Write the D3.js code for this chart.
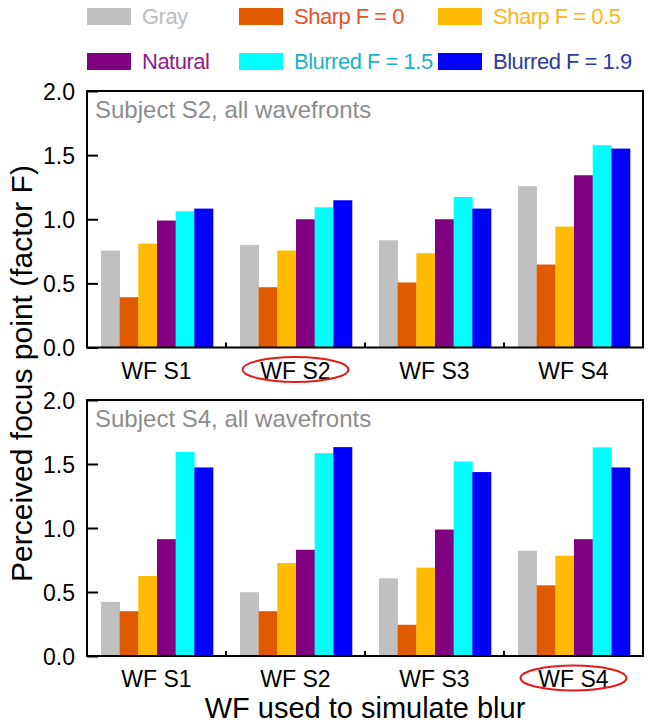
<!DOCTYPE html>
<html>
<head>
<meta charset="utf-8">
<script src="https://cdn.jsdelivr.net/npm/d3@7"></script>
<style>
  html, body { margin: 0; padding: 0; background: #fff; }
  svg { display: block; font-family: "Liberation Sans", Arial, Helvetica, sans-serif; }
</style>
</head>
<body>
<svg id="chart" width="651" height="728"></svg>
<script>
// ---- Data ----
const groups = ["WF S1", "WF S2", "WF S3", "WF S4"];
const series = ["Gray", "Sharp F = 0", "Sharp F = 0.5", "Natural", "Blurred F = 1.5", "Blurred F = 1.9"];
const barColors = ["#c0c0c0", "#e05a00", "#ffbb00", "#800080", "#00ffff", "#0000ff"];
const legendTextColors = ["#bcbcbc", "#e8522a", "#f9b620", "#8a1c8a", "#19b2c6", "#2e3c98"];
// values[group][series]
const valuesS2 = [
  [0.756, 0.392, 0.81, 0.99, 1.062, 1.083],
  [0.80, 0.47, 0.756, 1.00, 1.093, 1.148],
  [0.836, 0.507, 0.735, 1.00, 1.174, 1.083],
  [1.258, 0.647, 0.943, 1.343, 1.577, 1.551]
];
const valuesS4 = [
  [0.423, 0.35, 0.625, 0.913, 1.595, 1.473],
  [0.498, 0.35, 0.726, 0.83, 1.585, 1.632],
  [0.607, 0.244, 0.69, 0.988, 1.52, 1.437],
  [0.822, 0.552, 0.783, 0.913, 1.63, 1.473]
];
const yTicks = [0, 0.5, 1.0, 1.5, 2.0];
const panelTitles = ["Subject S2, all wavefronts", "Subject S4, all wavefronts"];
const highlighted = ["WF S2", "WF S4"];
const xTitle = "WF used to simulate blur";
const yTitle = "Perceived focus point (factor F)";

// ---- Layout ----
const svg = d3.select("#chart");
const left = 87, right = 643;
const panels = [
  { top: 91, bottom: 347.5, values: valuesS2, title: panelTitles[0], hl: highlighted[0] },
  { top: 400, bottom: 656, values: valuesS4, title: panelTitles[1], hl: highlighted[1] }
];

const x0 = d3.scaleBand().domain(groups).range([left, right]).padding(0);
const x1 = d3.scaleBand().domain(series).range([14, x0.bandwidth() - 13]).padding(0);

panels.forEach(p => {
  const y = d3.scaleLinear().domain([0, 2]).range([p.bottom, p.top]);
  const g = svg.append("g");

  // bars
  groups.forEach((grp, gi) => {
    g.append("g").selectAll("rect")
      .data(series.map((s, si) => ({ s, si, v: p.values[gi][si] })))
      .join("rect")
      .attr("x", d => x0(grp) + x1(d.s))
      .attr("width", x1.bandwidth() + 0.3)
      .attr("y", d => y(d.v))
      .attr("height", d => y(0) - y(d.v))
      .attr("fill", d => barColors[d.si]);
  });

  // y axis (ticks inward)
  const yAxis = d3.axisLeft(y).tickValues(yTicks).tickFormat(d3.format(".1f")).tickSizeInner(-11).tickSizeOuter(0).tickPadding(12);
  const ya = g.append("g").attr("transform", `translate(${left},0)`).call(yAxis);
  ya.select(".domain").remove();
  ya.selectAll("line").attr("stroke", "#000").attr("stroke-width", 2);
  ya.selectAll("text").attr("font-size", 23).attr("fill", "#000").attr("dy", "0.36em");

  // x axis: labels centered under groups, small inward ticks at group boundaries
  const xAxis = d3.axisBottom(x0).tickSize(0).tickPadding(15);
  const xa = g.append("g").attr("transform", `translate(0,${p.bottom})`).call(xAxis);
  xa.select(".domain").remove();
  xa.selectAll("text").attr("font-size", 23).attr("fill", "#000").attr("dy", "0.71em");
  g.append("g").selectAll("line")
    .data(groups.slice(1))
    .join("line")
    .attr("x1", d => x0(d)).attr("x2", d => x0(d))
    .attr("y1", p.bottom).attr("y2", p.bottom - 5)
    .attr("stroke", "#000").attr("stroke-width", 2);

  // frame
  g.append("rect")
    .attr("x", left).attr("y", p.top)
    .attr("width", right - left).attr("height", p.bottom - p.top)
    .attr("fill", "none").attr("stroke", "#000").attr("stroke-width", 2);

  // panel subtitle
  g.append("text")
    .attr("x", left + 8).attr("y", p.top + 27)
    .attr("font-size", 24).attr("fill", "#8c8c8c")
    .text(p.title);

  // red ellipse around highlighted label
  g.append("ellipse")
    .attr("cx", x0(p.hl) + x0.bandwidth() / 2)
    .attr("cy", p.bottom + 22)
    .attr("rx", 53).attr("ry", 12.5)
    .attr("fill", "none").attr("stroke", "#e41a1a").attr("stroke-width", 2);
});

// axis titles
svg.append("text")
  .attr("x", (left + right) / 2).attr("y", 718)
  .attr("text-anchor", "middle").attr("font-size", 29).attr("fill", "#000")
  .text(xTitle);

svg.append("text")
  .attr("transform", `translate(32,${(91 + 656) / 2}) rotate(-90)`)
  .attr("text-anchor", "middle").attr("font-size", 30).attr("fill", "#000")
  .text(yTitle);

// legend
const legCols = [87, 239, 438];
const legRows = [8, 53];
const leg = svg.append("g").selectAll("g")
  .data(series.map((s, i) => ({ s, i })))
  .join("g")
  .attr("transform", d => `translate(${legCols[d.i % 3]},${legRows[Math.floor(d.i / 3)]})`);
leg.append("rect").attr("width", 44).attr("height", 17).attr("fill", d => barColors[d.i]);
leg.append("text").attr("x", 55).attr("y", 16).attr("font-size", 22).attr("letter-spacing", -0.5)
  .attr("fill", d => legendTextColors[d.i]).text(d => d.s);
</script>
</body>
</html>
